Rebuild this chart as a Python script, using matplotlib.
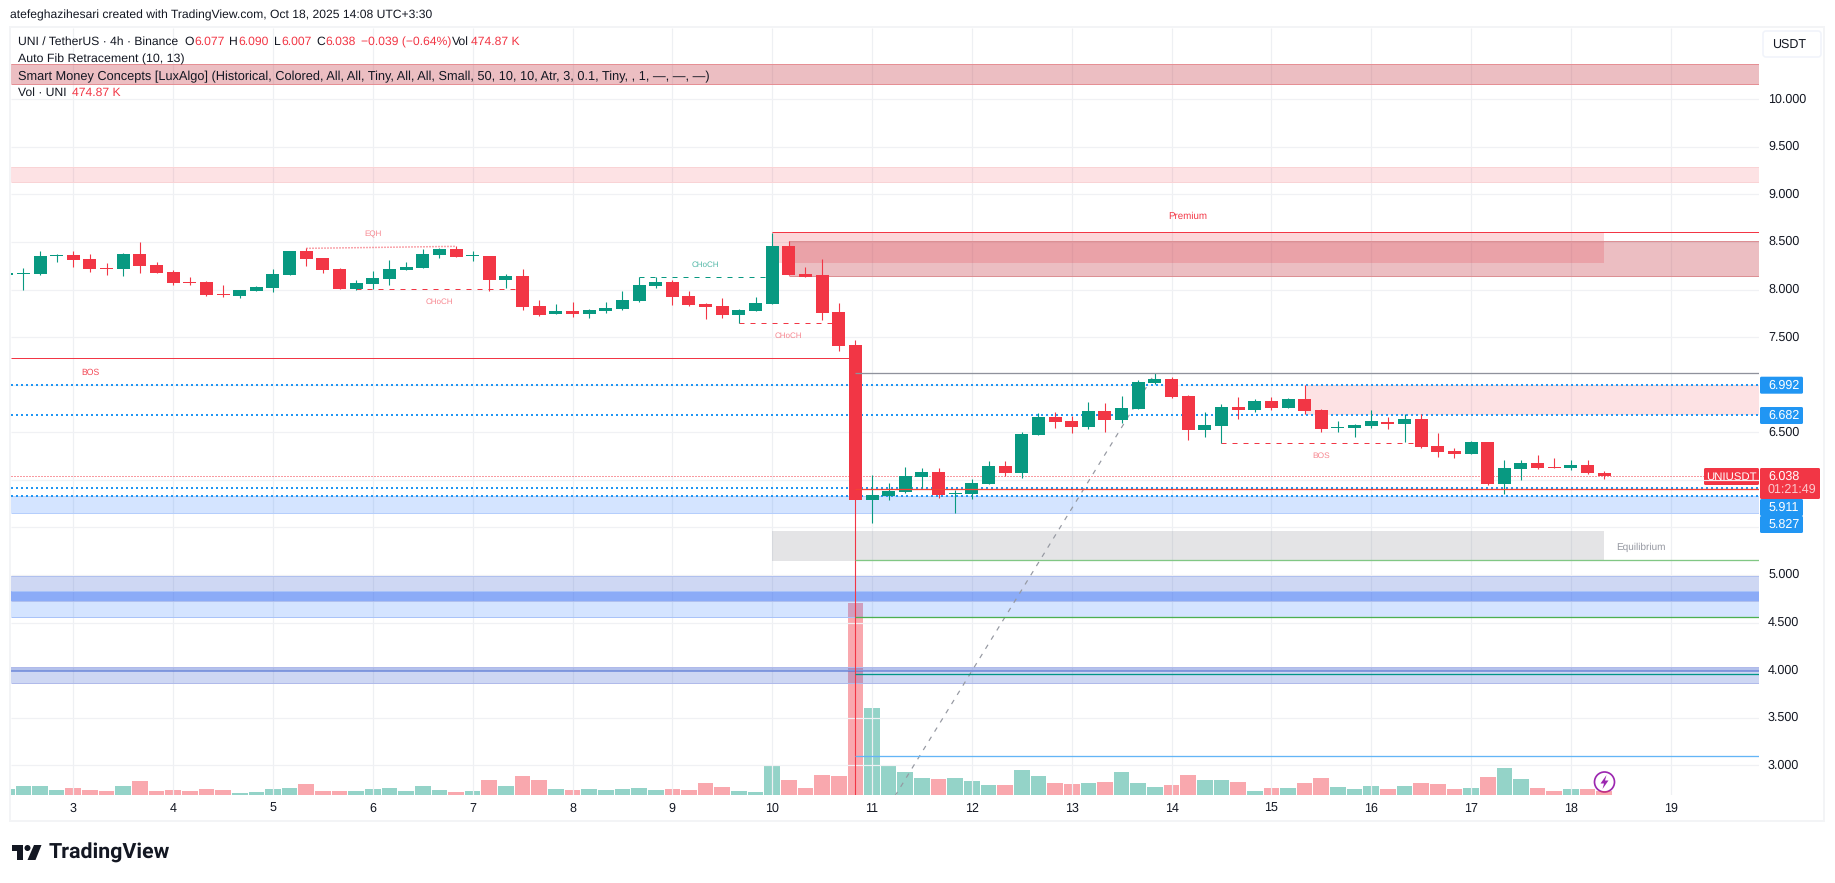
import numpy as np
import matplotlib
matplotlib.use("Agg")
import matplotlib.pyplot as plt
from matplotlib.patches import Rectangle, FancyBboxPatch, Circle, Polygon
from matplotlib.transforms import Affine2D

plt.rcParams['font.family'] = ['Liberation Sans', 'DejaVu Sans']
plt.rcParams['text.hinting'] = 'none'

# 4h candles, UNI/USDT. Index 0 is the first candle of the 3rd, six candles a day.
first_index = -4
opens = [8.153, 8.167, 8.163, 8.353, 8.363, 8.321, 8.226, 8.216, 8.374, 8.258, 8.184, 8.079, 8.079, 7.953, 7.932, 7.985,
         8.016, 8.153, 8.405, 8.332, 8.216, 8.006, 8.058, 8.111, 8.205, 8.226, 8.363, 8.426, 8.356, 8.353, 8.100, 8.142,
         7.827, 7.743, 7.775, 7.743, 7.775, 7.796, 7.880, 8.037, 8.079, 7.932, 7.848, 7.827, 7.732, 7.775, 7.848, 8.458,
         8.163, 8.153, 7.764, 7.417, 5.789, 5.831, 5.873, 6.030, 6.083, 5.852, 5.852, 5.957, 6.146, 6.072, 6.472, 6.661,
         6.619, 6.556, 6.724, 6.629, 6.745, 7.018, 7.060, 6.882, 6.524, 6.566, 6.766, 6.735, 6.829, 6.756, 6.850, 6.735,
         6.545, 6.545, 6.566, 6.608, 6.587, 6.640, 6.356, 6.304, 6.272, 6.398, 5.957, 6.114, 6.178, 6.135, 6.125, 6.156,
         6.077]
highs = [8.177, 8.226, 8.405, 8.374, 8.405, 8.374, 8.279, 8.384, 8.500, 8.290, 8.205, 8.132, 8.090, 8.048, 7.995, 8.037,
         8.216, 8.405, 8.437, 8.332, 8.226, 8.100, 8.195, 8.311, 8.290, 8.426, 8.437, 8.458, 8.405, 8.353, 8.163, 8.216,
         7.890, 7.848, 7.869, 7.796, 7.869, 7.985, 8.128, 8.132, 8.100, 7.985, 7.859, 7.911, 7.796, 7.922, 8.598, 8.510,
         8.237, 8.321, 7.859, 7.470, 6.048, 5.967, 6.135, 6.125, 6.125, 5.894, 6.009, 6.199, 6.199, 6.503, 6.703, 6.714,
         6.671, 6.819, 6.808, 6.882, 7.050, 7.123, 7.081, 6.892, 6.714, 6.798, 6.871, 6.850, 6.871, 6.861, 6.997, 6.745,
         6.619, 6.587, 6.735, 6.661, 6.692, 6.692, 6.493, 6.335, 6.409, 6.398, 6.209, 6.209, 6.262, 6.230, 6.209, 6.209,
         6.090]
lows = [8.153, 7.995, 8.153, 8.290, 8.237, 8.184, 8.153, 8.142, 8.174, 8.174, 8.048, 8.048, 7.932, 7.922, 7.911, 7.985,
        7.974, 8.153, 8.247, 8.174, 8.006, 7.995, 8.006, 8.048, 8.205, 8.226, 8.332, 8.342, 8.300, 7.985, 8.016, 7.785,
        7.722, 7.743, 7.711, 7.701, 7.754, 7.785, 7.869, 8.016, 7.838, 7.827, 7.690, 7.701, 7.645, 7.775, 7.848, 8.153,
        8.132, 7.680, 7.354, 2.000, 5.547, 5.789, 5.862, 5.915, 5.810, 5.652, 5.799, 5.957, 6.041, 6.020, 6.472, 6.545,
        6.493, 6.535, 6.503, 6.598, 6.745, 7.008, 6.861, 6.419, 6.451, 6.384, 6.640, 6.714, 6.735, 6.756, 6.692, 6.503,
        6.503, 6.451, 6.545, 6.535, 6.398, 6.335, 6.241, 6.230, 6.272, 5.946, 5.852, 5.999, 6.114, 6.125, 6.104, 6.062,
        6.007]
closes = [8.177, 8.174, 8.353, 8.363, 8.311, 8.216, 8.216, 8.374, 8.247, 8.174, 8.069, 8.069, 7.943, 7.943, 7.995, 8.027,
          8.163, 8.405, 8.321, 8.205, 8.006, 8.069, 8.121, 8.216, 8.237, 8.374, 8.426, 8.342, 8.363, 8.100, 8.142, 7.817,
          7.732, 7.775, 7.743, 7.785, 7.806, 7.890, 8.048, 8.079, 7.922, 7.838, 7.817, 7.732, 7.785, 7.859, 8.458, 8.153,
          8.132, 7.754, 7.407, 5.789, 5.841, 5.883, 6.041, 6.083, 5.841, 5.862, 5.967, 6.146, 6.072, 6.482, 6.661, 6.608,
          6.556, 6.724, 6.629, 6.756, 7.029, 7.060, 6.871, 6.524, 6.577, 6.766, 6.735, 6.829, 6.756, 6.850, 6.724, 6.535,
          6.556, 6.577, 6.619, 6.587, 6.640, 6.346, 6.293, 6.272, 6.398, 5.957, 6.125, 6.178, 6.125, 6.125, 6.156, 6.072,
          6.038]
# volume in thousands
volumes = [713, 1069, 1069, 594, 832, 594, 475, 1069, 1663, 475, 594, 475, 713, 594, 238, 356,
           713, 832, 1307, 475, 475, 475, 713, 832, 475, 1069, 594, 356, 475, 1782, 1069, 2257,
           1782, 713, 594, 713, 594, 713, 832, 594, 713, 594, 1426, 950, 475, 356, 3564, 1782,
           832, 2376, 2257, 22810, 10336, 3564, 2732, 2020, 1901, 2020, 1663, 1188, 1188, 2970, 2257, 1426,
           1307, 1426, 1544, 2732, 1426, 950, 1188, 2376, 1782, 1782, 1544, 475, 832, 832, 1426, 2020,
           950, 713, 1069, 713, 1069, 1426, 1307, 713, 832, 2138, 3208, 1901, 832, 475, 713, 713,
           474.87]

day_labels = [3, 4, 5, 6, 7, 8, 9, 10, 11, 12, 13, 14, 15, 16, 17, 18, 19]
price_grid = [3.0, 3.5, 4.0, 4.5, 5.0, 5.5, 6.0, 6.5, 7.0, 7.5, 8.0, 8.5, 9.0, 9.5, 10.0]
price_labels = ["3.000", "3.500", "4.000", "4.500", "5.000", None, None, "6.500", None, "7.500", "8.000", "8.500",
                "9.000", "9.500", "10.000"]

# Auto Fib levels, low 2.00 at the crash candle, high 7.12
fib_prices = [7.12, 5.905, 5.162, 4.555, 3.956, 3.095]
fib_colors = ["#8f929c", "#F44336", "#81C784", "#4CAF50", "#009688", "#64B5F6"]
fib_start = 47
fib_low = (47, 2.00)
fib_high = (65, 7.12)

# horizontal key levels
key_levels = [6.992, 6.682, 5.911, 5.827]
key_tag_tops = [376.7, 407, 499, 516]
last_price = 6.038

# zones as low/high prices
blue_low = [4.731, 4.555, 3.862, 3.98]
blue_high = [4.990, 4.836, 4.030, 4.030]
red_zone_start = [42, 43, 74]
red_zone_end = [92, None, None]
red_zone_low = [8.282, 8.139, 6.682]
red_zone_high = [8.602, 8.507, 6.992]

# market structure lines
struct_start = [17, 34, 40, 69]
struct_end = [27, 42, 46, 81]
struct_price = [8.002, 8.128, 7.645, 6.384]
struct_color = ["#F23645", "#089981", "#F23645", "#F23645"]

W, H = 1835, 883
fig = plt.figure(figsize=(W / 100, H / 100), dpi=100, facecolor="white")
# y-down pixel coordinates for everything around the panes
px = Affine2D().scale(1 / W, -1 / H).translate(0, 1) + fig.transFigure

LEFT, RIGHT, TOP, BOTTOM = 11, 1759, 28, 795
ax = fig.add_axes([LEFT / W, 1 - BOTTOM / H, (RIGHT - LEFT) / W, (BOTTOM - TOP) / H])
vol_ax = ax.twinx()
ax.set_zorder(2)
vol_ax.set_zorder(1)
ax.patch.set_visible(False)

bar_step = 16.64
x_day3 = 73.3
ax.set_xlim((LEFT - x_day3) / bar_step, (RIGHT - x_day3) / bar_step)
ax.set_ylim(3 + (765.3 - BOTTOM) / 95.15, 3 + (765.3 - TOP) / 95.15)
vol_ax.set_ylim(0, 118.7 * (BOTTOM - TOP))
x_max = ax.get_xlim()[1]
x_min = ax.get_xlim()[0]
for a in (ax, vol_ax):
    a.set_xticks([])
    a.set_yticks([])
    for s in a.spines.values():
        s.set_visible(False)

GREEN, RED = "#089981", "#F23645"
ZONE_RED = "#c2303c"
PX = 0.72  # one pixel in points

idx = np.arange(first_index, first_index + len(opens))
o, h, l, c = map(np.array, (opens, highs, lows, closes))
up = c >= o
colors = np.where(up, GREEN, RED)

day_x = [(d - 3) * 6 for d in day_labels]
ax.vlines(day_x, ax.get_ylim()[0], ax.get_ylim()[1], color="#eef0f3", lw=1.2 * PX, zorder=0)
ax.hlines(price_grid, x_min, x_max, color="#f0f1f4", lw=1.2 * PX, zorder=0)

# volume pane, same x scale as the candles
vol_ax.bar(idx, volumes, width=0.94, color=colors, alpha=0.43, linewidth=0)


def zone(start, end, low, high, color, alpha, edge=None):
    end = x_max if end is None else end
    start = x_min if start is None else start
    ax.add_patch(Rectangle((start, low), end - start, high - low, facecolor=color, alpha=alpha,
                           linewidth=0, zorder=1))
    if edge:
        ax.hlines([low, high], start, end, color=edge, lw=PX, zorder=1.2)


# red bands
zone(None, None, 10.157, 10.370, ZONE_RED, 0.31, "#e58f94")
zone(None, None, 9.133, 9.288, RED, 0.14, "#f9d3d5")
zone(red_zone_start[0], red_zone_end[0], red_zone_low[0], red_zone_high[0], RED, 0.2)
zone(red_zone_start[1], red_zone_end[1], red_zone_low[1], red_zone_high[1], ZONE_RED, 0.31, "#dc9094")
zone(red_zone_start[2], red_zone_end[2], red_zone_low[2], red_zone_high[2], RED, 0.14)
ax.hlines(8.602, 42, x_max, color=RED, lw=PX, zorder=1.3)

# equilibrium
zone(42, 92, 5.145, 5.462, "#787b86", 0.2)

# blue demand bands
zone(None, None, 5.656, 5.831, "#2979ff", 0.2, "#b5cefc")
zone(None, None, blue_low[0], blue_high[0], "#3f62d0", 0.25, "#b0c0ee")
zone(None, None, blue_low[1], blue_high[1], "#2979ff", 0.2, "#a9c3f8")
zone(None, None, blue_low[0], blue_high[1], "#2962ff", 0.25)
zone(None, None, blue_low[2], blue_high[2], "#3f62d0", 0.25, "#b0baea")
zone(None, None, blue_low[3], blue_high[3], "#3f62d0", 0.18)
zone(None, None, 3.98, 4.0, "#3f62d0", 0.4)

# dotted key levels and last price, behind the candles
ax.hlines(key_levels, x_min, x_max, color="#2196F3", lw=2 * PX, linestyle=(0, (1, 1.5)), zorder=1.5)
ax.hlines(last_price, x_min, x_max, color=RED, lw=PX, linestyle=(0, (1, 2)), zorder=1.5)

# BOS level left of the crash and the structure lines
ax.hlines(7.28, x_min, 47, color=RED, lw=PX, zorder=1.6)
for x0, x1, p, col in zip(struct_start, struct_end, struct_price, struct_color):
    ax.hlines(p, x0, x1, color=col, lw=PX, linestyle=(0, (5, 6)), zorder=1.6)
ax.plot([14, 23], [8.433, 8.454], color=RED, alpha=0.6, lw=1.5 * PX, linestyle=(0, (1, 1)), zorder=1.6)

# fib trend line and levels
ax.plot([fib_low[0], fib_high[0]], [fib_low[1], fib_high[1]], color="#9598a1", lw=PX * 1.2,
        linestyle=(0, (4, 5)), zorder=1.7)
ax.hlines(fib_prices, fib_start, x_max, color=fib_colors, lw=PX * 1.3, zorder=3.5)

# candles
ax.vlines(idx, l, h, color=colors, lw=PX * 1.1, zorder=3)
ax.bar(idx, np.maximum(np.abs(c - o), 0.008), bottom=np.minimum(o, c), width=0.78, color=colors,
       linewidth=0, zorder=3.2)

# small structure labels
ax.text(18, 8.577, "EQH", color=RED, alpha=0.6, fontsize=5.8, ha="center", va="center")
ax.text(22, 7.872, "CHoCH", color=RED, alpha=0.6, fontsize=5.8, ha="center", va="center")
ax.text(38, 8.261, "CHoCH", color=GREEN, alpha=0.7, fontsize=5.8, ha="center", va="center")
ax.text(43, 7.515, "CHoCH", color=RED, alpha=0.6, fontsize=5.8, ha="center", va="center")
ax.text(1, 7.123, "BOS", color=RED, alpha=0.9, fontsize=6.2, ha="center", va="center")
ax.text(75, 6.254, "BOS", color=RED, alpha=0.6, fontsize=6.0, ha="center", va="center")
ax.text(67, 8.768, "Premium", color=RED, fontsize=7, ha="center", va="center")
ax.text(94.2, 5.294, "Equilibrium", color="#9598a1", fontsize=7.2, ha="center", va="center")

fig.add_artist(Rectangle((10, 27), 1814, 794, transform=px, fill=False, edgecolor="#f3f4f6", lw=2 * PX))

DARK = "#131722"
NEG = "#F23645"


def put(x, y, s, color=DARK, size=9.0, ha="left", weight="normal"):
    fig.text(x, y, s, transform=px, color=color, fontsize=size, ha=ha, va="center", fontweight=weight)


put(10, 15.5, "atefeghazihesari created with TradingView.com, Oct 18, 2025 14:08 UTC+3:30", size=8.7)

# legend block
put(18, 42, "UNI / TetherUS · 4h · Binance", size=8.7)
for x, s in [(184, "O"), (229, "H"), (273.5, "L"), (316.8, "C"), (452, "Vol")]:
    put(x, 42, s, size=8.7)
for x, s in [(194, "6.077"), (238, "6.090"), (281.5, "6.007"), (325.5, "6.038"),
             (360.7, "−0.039 (−0.64%)"), (471, "474.87 K")]:
    put(x, 42, s, color=NEG, size=8.7)
put(18, 59, "Auto Fib Retracement (10, 13)", size=8.9)
put(18, 76.5, "Smart Money Concepts [LuxAlgo] (Historical, Colored, All, All, Tiny, All, All, Small, 50, 10, 10, "
              "Atr, 3, 0.1, Tiny, , 1, —, —, —)", size=9.2)
put(18, 93, "Vol · UNI", size=8.7)
put(72, 93, "474.87 K", color=NEG, size=8.7)

# price scale
y_of = lambda p: 765.3 - (p - 3) * 95.15
for p, s in zip(price_grid, price_labels):
    if s:
        put(1768, y_of(p), s)
fig.add_artist(FancyBboxPatch((1763, 31), 58, 26, boxstyle="round,pad=0,rounding_size=3", transform=px,
                              facecolor="white", edgecolor="#f0f3fa", lw=1.5 * PX))
put(1772, 44.5, "USDT")

# date scale
for d, x in zip(day_labels, day_x):
    put(x_day3 + x * bar_step, 808.5, str(d), ha="center")


def tag(x0, x1, y0, y1, color):
    fig.add_artist(FancyBboxPatch((x0, y0), x1 - x0, y1 - y0, boxstyle="round,pad=0,rounding_size=1.5",
                                  transform=px, facecolor=color, edgecolor="none"))


for p, top in zip(key_levels, key_tag_tops):
    tag(1760, 1803, top, top + 17, "#2196F3")
    put(1768, top + 8.5, f"{p:.3f}", color="white")
tag(1704, 1759, 468, 485, RED)
put(1731.5, 476.7, "UNIUSDT", color="white", size=8.2, ha="center")
tag(1760, 1820, 468, 499, RED)
put(1768, 476.7, f"{last_price:.3f}", color="white")
put(1768, 490, "01:21:49", color="#fbc9cd")

# lightning badge on the last candle
PURPLE = "#9C27B0"
fig.add_artist(Circle((1604.5, 782), 10, transform=px, facecolor="white", edgecolor=PURPLE, lw=1.7 * PX))
fig.add_artist(Polygon([(1606.5, 775), (1600.5, 783.5), (1604, 783.5), (1602.5, 789), (1608.5, 780.5), (1605, 780.5)],
                       closed=True, transform=px, facecolor=PURPLE, edgecolor="none"))

# TradingView mark
LOGO = "#131722"
fig.add_artist(Polygon([(11.5, 845), (23, 845), (23, 860), (17, 860), (17, 851), (11.5, 851)], closed=True,
                       transform=px, facecolor=LOGO, edgecolor="none"))
fig.add_artist(Circle((27.5, 848), 3, transform=px, facecolor=LOGO, edgecolor="none"))
fig.add_artist(Polygon([(34, 845), (41.5, 845), (35.5, 860), (27.5, 860)], closed=True, transform=px,
                       facecolor=LOGO, edgecolor="none"))
fig.text(48.5, 853, "TradingView", transform=px, color=LOGO, fontsize=15.4, fontweight="bold", ha="left",
         va="center", family="Roboto")

fig.savefig("out.png", dpi=100, facecolor="white")
